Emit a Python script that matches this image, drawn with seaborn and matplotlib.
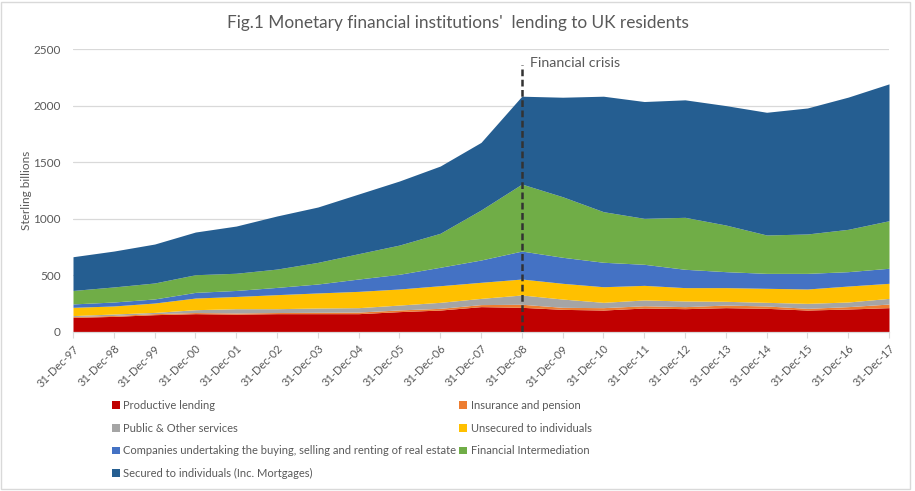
import matplotlib
matplotlib.use("Agg")
import matplotlib.pyplot as plt
import seaborn as sns
import pandas as pd
from matplotlib.patches import Patch, Rectangle

# === DATA (sterling billions) ===
dates = ["31-Dec-%02d" % (y % 100) for y in range(1997, 2018)]

productive = [129, 138, 153, 162, 158, 162, 162, 162, 180, 194, 224,
              218, 200, 194, 212, 206, 215, 209, 194, 203, 215]
insurance = [8, 8, 9, 10, 10, 10, 12, 14, 15, 15, 18,
             27, 18, 21, 20, 18, 23, 21, 15, 21, 32]
public = [8, 13, 11, 25, 38, 34, 38, 39, 43, 53, 55,
          82, 73, 47, 51, 50, 33, 32, 44, 41, 50]
unsecured = [73, 71, 83, 103, 108, 124, 133, 144, 142, 147, 142,
             141, 139, 138, 129, 118, 121, 124, 127, 141, 133]
real_estate = [30, 35, 36, 50, 53, 64, 79, 109, 130, 163, 197,
               247, 230, 216, 186, 162, 141, 132, 138, 127, 133]
financial = [119, 133, 141, 156, 152, 162, 191, 224, 258, 300, 442,
             592, 535, 447, 406, 459, 412, 339, 348, 374, 420]
secured = [298, 317, 344, 377, 417, 469, 489, 527, 566, 594, 597,
           776, 879, 1020, 1032, 1038, 1055, 1084, 1113, 1168, 1209]

series_names = ["Productive lending", "Insurance and pension",
                "Public & Other services", "Unsecured to individuals",
                "Companies undertaking the buying, selling and renting of real estate",
                "Financial Intermediation", "Secured to individuals (Inc. Mortgages)"]
colors = ["#C00000", "#ED7D31", "#A5A5A5", "#FFC000", "#4472C4", "#70AD47", "#255E91"]

crisis_date = "31-Dec-08"

# === STYLE ===
sns.set_theme(style="white")
plt.rcParams["font.family"] = ["Lato", "DejaVu Sans"]
TXT = "#595959"
GRID = "#D9D9D9"

df = pd.DataFrame({
    "date": dates,
    series_names[0]: productive,
    series_names[1]: insurance,
    series_names[2]: public,
    series_names[3]: unsecured,
    series_names[4]: real_estate,
    series_names[5]: financial,
    series_names[6]: secured,
})
x = list(range(len(df)))

fig = plt.figure(figsize=(9.15, 4.91), dpi=100)
ax = fig.add_axes([73 / 915, 1 - 332 / 491, 816 / 915, 283 / 491])

ax.stackplot(x, [df[n] for n in series_names], colors=colors, linewidth=0)

ax.set_xlim(0, len(x) - 1)
ax.set_ylim(0, 2500)
ax.set_yticks(range(0, 2501, 500))
ax.yaxis.grid(True, color=GRID, linewidth=0.9)
ax.set_axisbelow(True)
sns.despine(ax=ax, left=True, top=True, right=True)
ax.spines["bottom"].set_color(GRID)
ax.spines["bottom"].set_linewidth(0.9)

ax.set_xticks(x)
ax.set_xticklabels(dates, rotation=45, ha="right", va="top",
                   rotation_mode="anchor", fontsize=8, color=TXT)
ax.tick_params(axis="x", direction="out", length=4, width=0.8, color=GRID, pad=4,
               bottom=True)
ax.tick_params(axis="y", length=0, labelsize=8.5, labelcolor=TXT, pad=9)
ax.set_ylabel("Sterling billions", fontsize=8.5, color=TXT, labelpad=1)

# crisis marker
cx = dates.index(crisis_date)
ax.vlines(cx, 0, 2360, colors="#333333", linewidth=1.8,
          linestyles=(0, (2.7, 1.4)), zorder=5)
ax.text(cx + 0.2, 2380, "Financial crisis", fontsize=10.3, color=TXT,
        ha="left", va="center")

fig.text(0.5, 1 - 23 / 491, "Fig.1 Monetary financial institutions'  lending to UK residents",
         ha="center", va="center", fontsize=12.4, color=TXT)

# legend, laid out row by row like the original (2 columns)
handles = [Patch(facecolor=c, edgecolor="none") for c in colors]
order = [0, 2, 4, 6, 1, 3, 5]
fig.legend([handles[i] for i in order], [series_names[i] for i in order],
           loc="upper left", bbox_to_anchor=(112 / 915, 1 - 400 / 491),
           ncol=2, frameon=False, fontsize=8, labelcolor=TXT,
           handlelength=0.7, handleheight=0.7, handletextpad=0.3,
           columnspacing=0.3, labelspacing=1.05, borderaxespad=0, borderpad=0)

fig.patches.append(Rectangle((1 / 915, 2 / 491), 909 / 915, 487 / 491,
                             transform=fig.transFigure, fill=False,
                             edgecolor=GRID, linewidth=1))

fig.savefig("out.png", dpi=100)
